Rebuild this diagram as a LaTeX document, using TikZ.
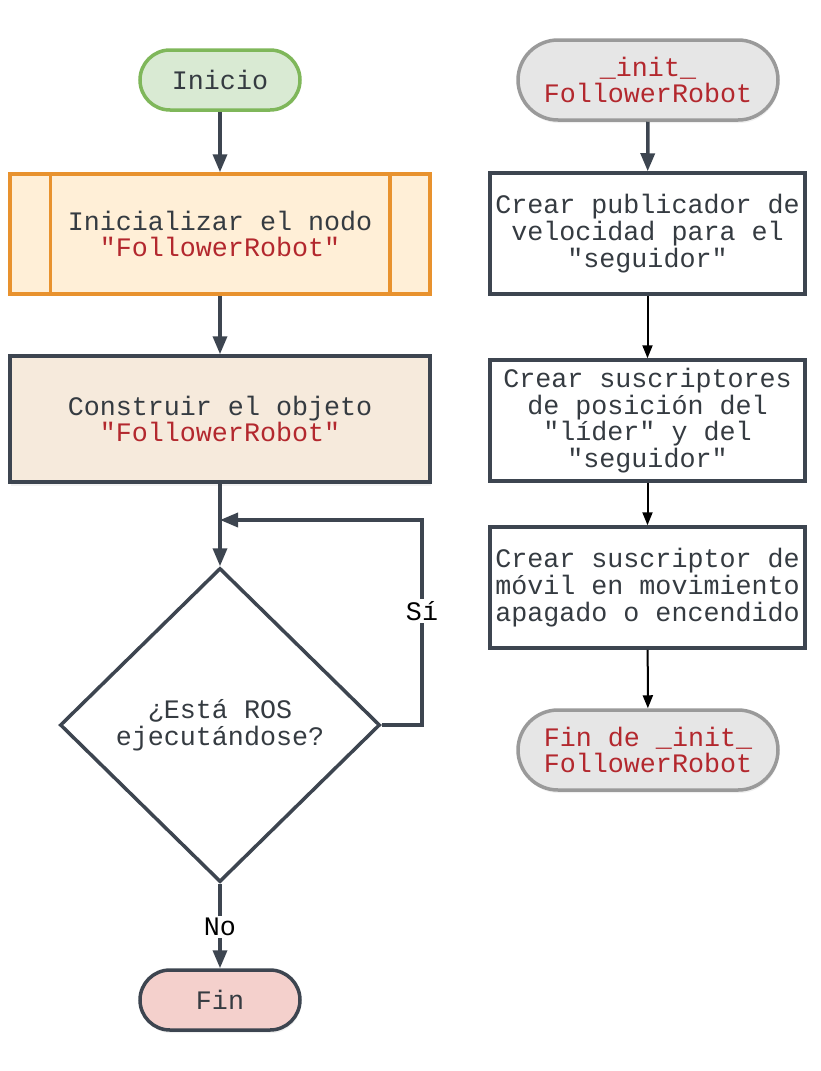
\documentclass[tikz,border=0pt]{standalone}
\usepackage{fontspec}
\newfontfamily\mono{Liberation Mono}
\usetikzlibrary{arrows.meta,shapes.geometric,shadows}
\definecolor{dk}{HTML}{3D4550}
\definecolor{txt}{HTML}{353B41}
\definecolor{rd}{HTML}{B3282E}
\definecolor{grnf}{HTML}{D9EAD3}
\definecolor{grnd}{HTML}{7FB75A}
\definecolor{orf}{HTML}{FFEFD7}
\definecolor{ord}{HTML}{E8922E}
\definecolor{bgf}{HTML}{F6EADC}
\definecolor{pkf}{HTML}{F4D0CC}
\definecolor{gyf}{HTML}{E6E6E6}
\definecolor{gyd}{HTML}{9A9A9A}
\tikzset{
  base/.style={line width=3.5pt, inner sep=0pt, align=center, text=txt},
  term/.style={base, rectangle, rounded corners=30pt, minimum width=160pt, minimum height=60pt},
  gterm/.style={base, rectangle, rounded corners=40pt, minimum width=260pt, minimum height=80pt,
     draw=gyd, fill=gyf, text=rd, drop shadow={shadow xshift=1pt, shadow yshift=-3pt, opacity=0.12}},
  procbox/.style={base, rectangle, draw=dk, fill=white, minimum width=315pt, minimum height=121pt},
  arr/.style={draw=dk, line width=3.5pt, -{Triangle[width=14pt,length=18pt]}},
  thinarr/.style={draw=black, line width=2pt, -{Triangle[width=10pt,length=13pt]}},
  lbl/.style={fill=white, inner sep=2pt, text=black}
}
\begin{document}
\begin{tikzpicture}[x=1pt,y=-1pt, font=\mono\fontsize{26.7pt}{26.8pt}\selectfont]
\useasboundingbox (0,0) rectangle (820,1071);

% left column
\node[term, draw=grnd, fill=grnf] (inicio) at (220,80) {Inicio};
\node[base, rectangle, draw=ord, fill=orf, minimum width=420pt, minimum height=120pt] (inic) at (220,234)
  {Inicializar el nodo\\{\color{rd}"FollowerRobot"}};
\draw[draw=ord, line width=3.5pt] ([xshift=42pt]inic.north west) -- ([xshift=42pt]inic.south west);
\draw[draw=ord, line width=3.5pt] ([xshift=-42pt]inic.north east) -- ([xshift=-42pt]inic.south east);
\node[base, rectangle, draw=dk, fill=bgf, minimum width=420pt, minimum height=126pt,
  drop shadow={shadow xshift=1pt, shadow yshift=-4pt, opacity=0.1}] (cons) at (220,419)
  {Construir el objeto\\{\color{rd}"FollowerRobot"}};
\node[base, diamond, draw=dk, fill=white, minimum width=320pt, minimum height=314pt] (dia) at (220,725)
  {¿Está ROS\\ejecutándose?};
\node[term, draw=dk, fill=pkf, drop shadow={shadow xshift=1pt, shadow yshift=-3pt, opacity=0.12}] (fin) at (220,1000) {Fin};

\coordinate (j) at (220,520);
\coordinate (r) at (422,725);
\draw[arr] (inicio) -- (inic);
\draw[arr] (inic) -- (cons);
\draw[arr] (cons) -- (dia.north);
\draw[arr] (dia.east) -- (r) |- (j);
\node[lbl] (si) at (422,611) {Sí};
\draw[arr] (dia.south) -- (fin);
\node[lbl] (no) at (220,927) {No};

% right column
\node[gterm] (s0) at (648,80) {\_init\_\\FollowerRobot};
\node[procbox] (b1) at (647.5,233.5) {Crear publicador de\\velocidad para el\\"seguidor"};
\node[procbox] (b2) at (647.5,420.5) {Crear suscriptores\\de posición del\\"líder" y del\\"seguidor"};
\node[procbox] (b3) at (647.5,587.5) {Crear suscriptor de\\móvil en movimiento\\apagado o encendido};
\node[gterm] (s1) at (648,750) {Fin de \_init\_\\FollowerRobot};

\draw[arr] (s0) -- (b1);
\draw[thinarr] (b1) -- (b2);
\draw[thinarr] (b2) -- (b3);
\draw[thinarr] (b3) -- (s1);
\end{tikzpicture}
\end{document}
